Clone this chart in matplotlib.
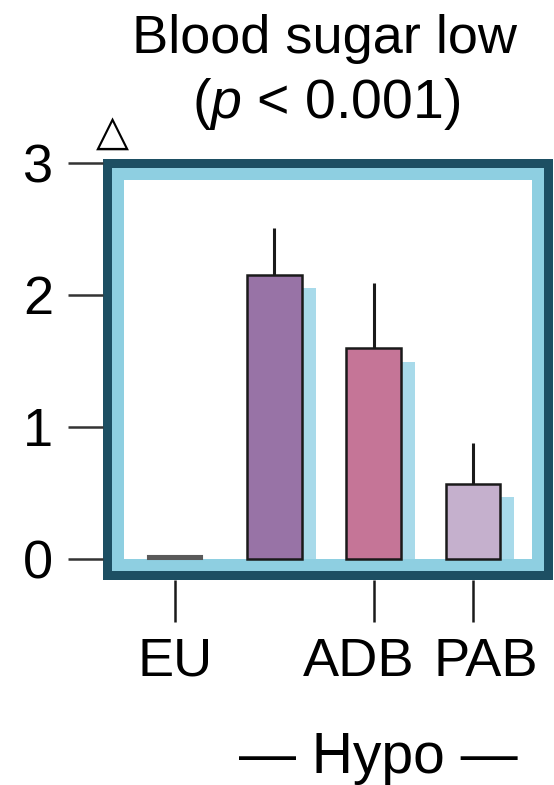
import matplotlib
matplotlib.use('Agg')
import matplotlib.pyplot as plt
from matplotlib.patches import Rectangle
from matplotlib.transforms import ScaledTranslation
import numpy as np

plt.rcParams['font.family'] = ['Liberation Sans', 'DejaVu Sans']
plt.rcParams['mathtext.fontset'] = 'custom'
plt.rcParams['mathtext.rm'] = 'Liberation Sans'
plt.rcParams['mathtext.it'] = 'Liberation Sans:italic'

# data
labels = ['EU', '', 'ADB', 'PAB']
means = [0.02, 2.15, 1.60, 0.57]
err_up = [0.0, 0.36, 0.49, 0.31]
shadow = [0.0, 2.05, 1.49, 0.47]
colors = ['#5a5a5a', '#9873a6', '#c57597', '#c5b0cd']
yticks = [0, 1, 2, 3]

dark = '#1d4f63'
light = '#8ecfe1'
shade = '#a8daea'

W, H = 554, 785
fig = plt.figure(figsize=(W / 100, H / 100), dpi=100)

# axes box in pixels (from the top-left)
left, right, top, bottom = 103, 553, 159, 580
ax = fig.add_axes([left / W, 1 - bottom / H, (right - left) / W, (bottom - top) / H])
aw, ah = right - left, bottom - top

x = np.arange(len(labels))
ax.set_xlim(-0.724, 3.805)
ax.set_ylim(-0.159, 3.03)

# frame: dark rim, light blue band, white inside
d, l = 9, 12
ax.add_patch(Rectangle((0, 0), 1, 1, transform=ax.transAxes, fc=dark, ec='none', zorder=0))
ax.add_patch(Rectangle((d / aw, d / ah), 1 - 2 * d / aw, 1 - 2 * d / ah,
                       transform=ax.transAxes, fc=light, ec='none', zorder=0.1))
ax.add_patch(Rectangle(((d + l) / aw, (d + l) / ah), 1 - 2 * (d + l) / aw, 1 - 2 * (d + l) / ah,
                       transform=ax.transAxes, fc='white', ec='none', zorder=0.2))

width = 0.55
ax.bar(x + 0.14, shadow, width, color=shade, zorder=1)
ax.errorbar(x[1:], means[1:], yerr=[np.zeros(3), err_up[1:]], fmt='none',
            ecolor='#1a1a1a', elinewidth=2.2, capsize=0, zorder=2)
ax.bar(x[1:], means[1:], width, color=colors[1:], edgecolor='#1a1a1a', linewidth=1.8, zorder=3)
ax.bar(x[0], means[0], width, color=colors[0], edgecolor=colors[0], linewidth=1.5, zorder=3)

for s in ax.spines.values():
    s.set_visible(False)

ax.set_yticks(yticks)
ax.set_yticklabels([str(t) for t in yticks])
tick_pos = [i for i, t in enumerate(labels) if t]
ax.set_xticks(tick_pos)
ax.set_xticklabels([labels[i] for i in tick_pos])
ax.tick_params(axis='y', length=25, width=1.8, color='#333333', pad=11, labelsize=39)
ax.tick_params(axis='x', length=30, width=1.8, color='#1a1a1a', pad=11, labelsize=39)

# ADB and PAB labels sit a little apart from their ticks in the original
shifts = {'ADB': -15, 'PAB': 13}
for lab in ax.get_xticklabels():
    dx = shifts.get(lab.get_text(), 0)
    lab.set_transform(lab.get_transform() + ScaledTranslation(dx / 100, 0, fig.dpi_scale_trans))

# titles and annotations
fig.text(325 / W, 1 - 53 / H, 'Blood sugar low', ha='center', va='baseline', fontsize=39)
fig.text(326 / W, 1 - 118 / H, '($p$ < 0.001)', ha='center', va='baseline', fontsize=40)
fig.text(112 / W, 1 - 145 / H, '△', ha='center', va='baseline', fontsize=31,
         family='DejaVu Sans')
fig.text(378 / W, 1 - 773 / H, '— Hypo —', ha='center', va='baseline', fontsize=41)

fig.savefig('out.png', dpi=100)
